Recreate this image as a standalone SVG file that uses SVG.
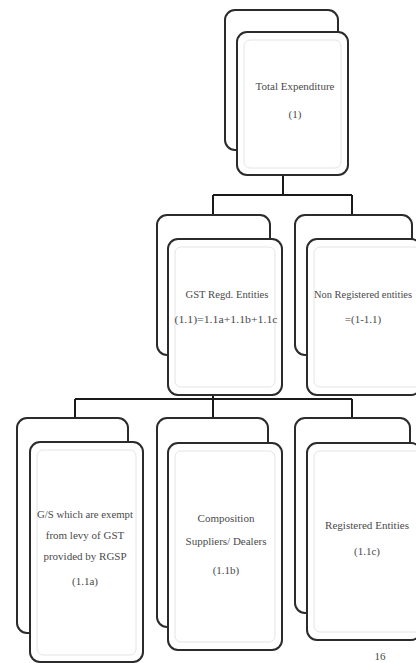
<svg xmlns="http://www.w3.org/2000/svg" width="416" height="663" viewBox="0 0 416 663">
<style>
.bg{fill:#ffffff}
.card{fill:#ffffff;stroke:#2b2b2b;stroke-width:2}
.inner{fill:none;stroke:#e4e4e4;stroke-width:1}
.conn{fill:none;stroke:#1a1a1a;stroke-width:2}
.t{font-family:"Liberation Serif","DejaVu Serif",serif;font-size:11px;fill:#4a4a4a;text-anchor:middle}
</style>
<rect class="bg" x="0" y="0" width="416" height="663"/>
<g id="connectors">
<path class="conn" d="M283 175 V195 M213 195 H352 M213 195 V215 M352 195 V215"/>
<path class="conn" d="M213 395 V399 M75 399 H352 M75 399 V418 M213 399 V418 M352 399 V418"/>
</g>
<g id="n-total">
<rect class="card" x="225" y="10" width="113" height="140" rx="10"/>
<rect class="card" x="237" y="32" width="111" height="143" rx="10"/>
<rect class="inner" x="244" y="40" width="97" height="128" rx="6"/>
<text class="t" x="295" y="90">Total Expenditure</text>
<text class="t" x="295" y="118">(1)</text>
</g>
<g id="n-gst">
<rect class="card" x="157" y="215" width="113" height="140" rx="10"/>
<rect class="card" x="168" y="239" width="114" height="156" rx="10"/>
<rect class="inner" x="175" y="247" width="100" height="140" rx="6"/>
<text class="t" x="227" y="298" textLength="83" lengthAdjust="spacingAndGlyphs">GST Regd. Entities</text>
<text class="t" x="226" y="323" textLength="103" lengthAdjust="spacingAndGlyphs">(1.1)=1.1a+1.1b+1.1c</text>
</g>
<g id="n-nonreg">
<rect class="card" x="295" y="215" width="117" height="140" rx="10"/>
<rect class="card" x="307" y="239" width="114" height="156" rx="10"/>
<rect class="inner" x="314" y="247" width="110" height="140" rx="6"/>
<text class="t" x="363" y="298" textLength="98" lengthAdjust="spacingAndGlyphs">Non Registered entities</text>
<text class="t" x="363" y="323">=(1-1.1)</text>
</g>
<g id="n-exempt">
<rect class="card" x="17" y="418" width="111" height="215" rx="10"/>
<rect class="card" x="30" y="442" width="113" height="220" rx="10"/>
<rect class="inner" x="37" y="450" width="99" height="205" rx="6"/>
<text class="t" x="85" y="518" textLength="96" lengthAdjust="spacingAndGlyphs">G/S which are exempt</text>
<text class="t" x="85" y="539">from levy of GST</text>
<text class="t" x="85" y="560">provided by RGSP</text>
<text class="t" x="85" y="585">(1.1a)</text>
</g>
<g id="n-comp">
<rect class="card" x="157" y="418" width="111" height="209" rx="10"/>
<rect class="card" x="168" y="443" width="114" height="207" rx="10"/>
<rect class="inner" x="175" y="451" width="100" height="191" rx="6"/>
<text class="t" x="226" y="522">Composition</text>
<text class="t" x="226" y="545">Suppliers/ Dealers</text>
<text class="t" x="226" y="574">(1.1b)</text>
</g>
<g id="n-reg">
<rect class="card" x="295" y="418" width="115" height="195" rx="10"/>
<rect class="card" x="307" y="443" width="114" height="197" rx="10"/>
<rect class="inner" x="314" y="451" width="110" height="181" rx="6"/>
<text class="t" x="367" y="529" textLength="84" lengthAdjust="spacingAndGlyphs">Registered Entities</text>
<text class="t" x="367" y="555">(1.1c)</text>
</g>
<text class="t" x="380" y="660">16</text>
</svg>
